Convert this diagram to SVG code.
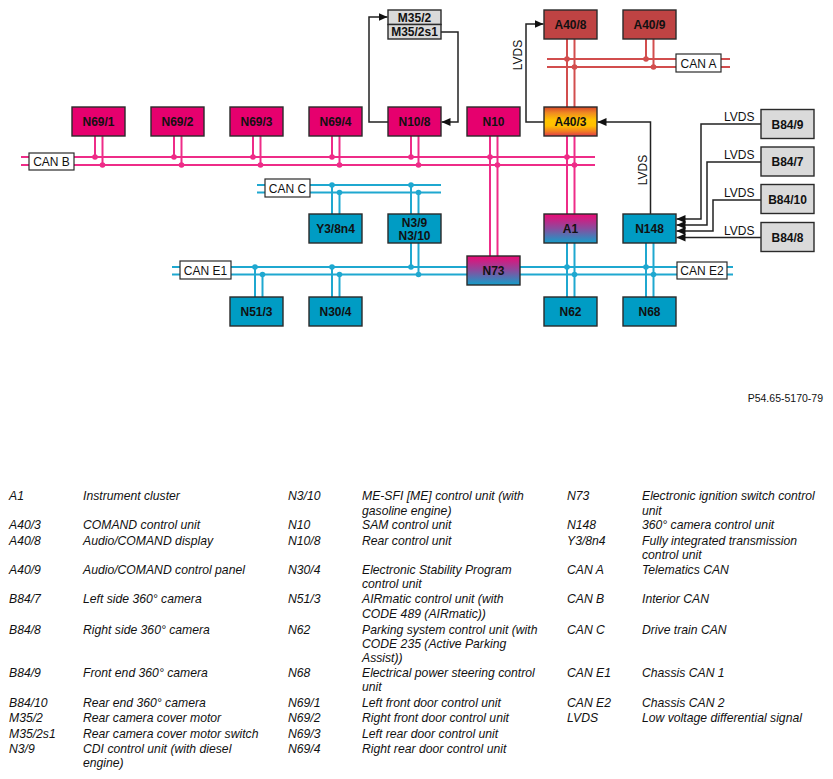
<svg xmlns="http://www.w3.org/2000/svg" width="833" height="779" viewBox="0 0 833 779">
<style>
.bg{fill:#ffffff}
.box{stroke:#2a2a2a;stroke-width:1.4}
.pink{fill:#E6006E}
.blue{fill:#009CC4}
.red{fill:#BF4343}
.gray{fill:#DADADA}
.nt{font-family:"Liberation Sans",Arial,sans-serif;font-weight:bold;font-size:12px;fill:#111;text-anchor:middle}
.bl{fill:#fff;stroke:#2a2a2a;stroke-width:1.2}
.btxt{font-family:"Liberation Sans",Arial,sans-serif;font-size:12px;fill:#111;text-anchor:middle}
.pb{stroke:#EE2C88;stroke-width:2;fill:none}
.cb{stroke:#1FA8D0;stroke-width:2;fill:none}
.rb{stroke:#D24E4E;stroke-width:2;fill:none}
.pd{fill:#EE2C88}
.cd{fill:#1FA8D0}
.rd{fill:#D24E4E}
.ar{stroke:#222;stroke-width:1.5;fill:none;marker-end:url(#ah)}
.lv{font-family:"Liberation Sans",Arial,sans-serif;font-size:12px;fill:#111}
.lg{font-family:"Liberation Sans",Arial,sans-serif;font-style:italic;font-size:12.2px;fill:#111}
.fn{font-family:"Liberation Sans",Arial,sans-serif;font-size:10.5px;fill:#111;text-anchor:end}
</style>
<defs>
<marker id="ah" markerUnits="userSpaceOnUse" markerWidth="10" markerHeight="8" refX="9" refY="4" orient="auto">
<path d="M0,0 L9,4 L0,8 z" fill="#111"/>
</marker>
<linearGradient id="gOrange" x1="0" y1="0" x2="0" y2="1">
<stop offset="0" stop-color="#D8452A"/>
<stop offset="0.2" stop-color="#F08A22"/>
<stop offset="0.45" stop-color="#FFC400"/>
<stop offset="0.65" stop-color="#FFC000"/>
<stop offset="0.85" stop-color="#F07A25"/>
<stop offset="1" stop-color="#E03A4A"/>
</linearGradient>
<linearGradient id="gPB" x1="0" y1="0" x2="0" y2="1">
<stop offset="0" stop-color="#EC0A76"/>
<stop offset="0.5" stop-color="#8A4C9E"/>
<stop offset="1" stop-color="#139FCA"/>
</linearGradient>
</defs>
<rect class="bg" x="0" y="0" width="833" height="779"/>

<g id="connectors">
<!-- CAN A -->
<line class="rb" x1="547" y1="59" x2="730" y2="59"/>
<line class="rb" x1="547" y1="67" x2="730" y2="67"/>
<line class="rb" x1="567" y1="39" x2="567" y2="107"/>
<line class="rb" x1="574.5" y1="39" x2="574.5" y2="107"/>
<line class="rb" x1="646" y1="39" x2="646" y2="59"/>
<line class="rb" x1="653.5" y1="39" x2="653.5" y2="67"/>
<circle class="rd" cx="567" cy="59" r="2.8"/>
<circle class="rd" cx="574.5" cy="67" r="2.8"/>
<circle class="rd" cx="646" cy="59" r="2.8"/>
<circle class="rd" cx="653.5" cy="67" r="2.8"/>
<!-- CAN B -->
<line class="pb" x1="21" y1="157" x2="595" y2="157"/>
<line class="pb" x1="21" y1="165" x2="595" y2="165"/>
<line class="pb" x1="95" y1="136" x2="95" y2="157"/>
<line class="pb" x1="102.5" y1="136" x2="102.5" y2="165"/>
<line class="pb" x1="174" y1="136" x2="174" y2="157"/>
<line class="pb" x1="181.5" y1="136" x2="181.5" y2="165"/>
<line class="pb" x1="253" y1="136" x2="253" y2="157"/>
<line class="pb" x1="260.5" y1="136" x2="260.5" y2="165"/>
<line class="pb" x1="332" y1="136" x2="332" y2="157"/>
<line class="pb" x1="339.5" y1="136" x2="339.5" y2="165"/>
<line class="pb" x1="411" y1="136" x2="411" y2="157"/>
<line class="pb" x1="418.5" y1="136" x2="418.5" y2="165"/>
<line class="pb" x1="490" y1="136" x2="490" y2="256"/>
<line class="pb" x1="497.5" y1="136" x2="497.5" y2="256"/>
<line class="pb" x1="567" y1="136" x2="567" y2="214"/>
<line class="pb" x1="574.5" y1="136" x2="574.5" y2="214"/>
<circle class="pd" cx="95" cy="157" r="2.8"/>
<circle class="pd" cx="102.5" cy="165" r="2.8"/>
<circle class="pd" cx="174" cy="157" r="2.8"/>
<circle class="pd" cx="181.5" cy="165" r="2.8"/>
<circle class="pd" cx="253" cy="157" r="2.8"/>
<circle class="pd" cx="260.5" cy="165" r="2.8"/>
<circle class="pd" cx="332" cy="157" r="2.8"/>
<circle class="pd" cx="339.5" cy="165" r="2.8"/>
<circle class="pd" cx="411" cy="157" r="2.8"/>
<circle class="pd" cx="418.5" cy="165" r="2.8"/>
<circle class="pd" cx="490" cy="157" r="2.8"/>
<circle class="pd" cx="497.5" cy="165" r="2.8"/>
<circle class="pd" cx="567" cy="157" r="2.8"/>
<circle class="pd" cx="574.5" cy="165" r="2.8"/>
<!-- CAN C -->
<line class="cb" x1="257" y1="185" x2="441" y2="185"/>
<line class="cb" x1="257" y1="192.5" x2="441" y2="192.5"/>
<line class="cb" x1="332" y1="185" x2="332" y2="214"/>
<line class="cb" x1="339.5" y1="192.5" x2="339.5" y2="214"/>
<line class="cb" x1="411" y1="185" x2="411" y2="214"/>
<line class="cb" x1="418.5" y1="192.5" x2="418.5" y2="214"/>
<circle class="cd" cx="332" cy="185" r="2.8"/>
<circle class="cd" cx="339.5" cy="192.5" r="2.8"/>
<circle class="cd" cx="411" cy="185" r="2.8"/>
<circle class="cd" cx="418.5" cy="192.5" r="2.8"/>
<!-- CAN E1 / E2 -->
<line class="cb" x1="172" y1="267" x2="733" y2="267"/>
<line class="cb" x1="172" y1="274.5" x2="733" y2="274.5"/>
<line class="cb" x1="411" y1="243" x2="411" y2="267"/>
<line class="cb" x1="418.5" y1="243" x2="418.5" y2="274.5"/>
<line class="cb" x1="255" y1="267" x2="255" y2="297"/>
<line class="cb" x1="262.5" y1="274.5" x2="262.5" y2="297"/>
<line class="cb" x1="332" y1="267" x2="332" y2="297"/>
<line class="cb" x1="339.5" y1="274.5" x2="339.5" y2="297"/>
<line class="cb" x1="567" y1="243" x2="567" y2="297"/>
<line class="cb" x1="574.5" y1="243" x2="574.5" y2="297"/>
<line class="cb" x1="646" y1="243" x2="646" y2="297"/>
<line class="cb" x1="653.5" y1="243" x2="653.5" y2="297"/>
<circle class="cd" cx="411" cy="267" r="2.8"/>
<circle class="cd" cx="418.5" cy="274.5" r="2.8"/>
<circle class="cd" cx="255" cy="267" r="2.8"/>
<circle class="cd" cx="262.5" cy="274.5" r="2.8"/>
<circle class="cd" cx="332" cy="267" r="2.8"/>
<circle class="cd" cx="339.5" cy="274.5" r="2.8"/>
<circle class="cd" cx="567" cy="267" r="2.8"/>
<circle class="cd" cx="574.5" cy="274.5" r="2.8"/>
<circle class="cd" cx="646" cy="267" r="2.8"/>
<circle class="cd" cx="653.5" cy="274.5" r="2.8"/>
<!-- bus labels -->
<rect class="bl" x="29" y="153" width="45" height="17"/>
<text class="btxt" x="51.5" y="166">CAN B</text>
<rect class="bl" x="265" y="179" width="45" height="18"/>
<text class="btxt" x="287.5" y="192.5">CAN C</text>
<rect class="bl" x="180" y="261" width="51" height="18"/>
<text class="btxt" x="205.5" y="274.5">CAN E1</text>
<rect class="bl" x="677" y="262" width="50" height="17"/>
<text class="btxt" x="702" y="275">CAN E2</text>
<rect class="bl" x="676" y="54" width="45" height="18"/>
<text class="btxt" x="698.5" y="67.5">CAN A</text>
<!-- LVDS / signal arrows -->
<polyline class="ar" points="388,122 369,122 369,17 387.5,17"/>
<polyline class="ar" points="441,32 458,32 458,122 441.5,122"/>
<polyline class="ar" points="544,122 526,122 526,24 543.5,24"/>
<text class="lv" transform="translate(522,55) rotate(-90)" text-anchor="middle">LVDS</text>
<polyline class="ar" points="650.5,214 650.5,122 597.5,122"/>
<text class="lv" transform="translate(647,170) rotate(-90)" text-anchor="middle">LVDS</text>
<polyline class="ar" points="761,124 701,124 701,219 676.5,219"/>
<polyline class="ar" points="761,162 707,162 707,225 676.5,225"/>
<polyline class="ar" points="761,200 713,200 713,231 676.5,231"/>
<polyline class="ar" points="761,237.5 676.5,237.5"/>
<text class="lv" x="724" y="121">LVDS</text>
<text class="lv" x="724" y="159">LVDS</text>
<text class="lv" x="724" y="197">LVDS</text>
<text class="lv" x="724" y="234.5">LVDS</text>
</g>

<g id="M35-2"><rect class="box gray" x="388" y="10" width="53" height="14.5"/><text class="nt" x="414.5" y="21.5">M35/2</text></g>
<g id="M35-2s1"><rect class="box gray" x="388" y="24.5" width="53" height="14.5"/><text class="nt" x="414.5" y="36">M35/2s1</text></g>
<g id="A40-8"><rect class="box red" x="544" y="10" width="53" height="29"/><text class="nt" x="570.5" y="29">A40/8</text></g>
<g id="A40-9"><rect class="box red" x="623" y="10" width="53" height="29"/><text class="nt" x="649.5" y="29">A40/9</text></g>

<g id="N69-1"><rect class="box pink" x="72" y="107" width="53" height="29"/><text class="nt" x="98.5" y="126">N69/1</text></g>
<g id="N69-2"><rect class="box pink" x="151" y="107" width="53" height="29"/><text class="nt" x="177.5" y="126">N69/2</text></g>
<g id="N69-3"><rect class="box pink" x="230" y="107" width="53" height="29"/><text class="nt" x="256.5" y="126">N69/3</text></g>
<g id="N69-4"><rect class="box pink" x="309" y="107" width="53" height="29"/><text class="nt" x="335.5" y="126">N69/4</text></g>
<g id="N10-8"><rect class="box pink" x="388" y="107" width="53" height="29"/><text class="nt" x="414.5" y="126">N10/8</text></g>
<g id="N10"><rect class="box pink" x="467" y="107" width="53" height="29"/><text class="nt" x="493.5" y="126">N10</text></g>
<g id="A40-3"><rect class="box" fill="url(#gOrange)" x="544" y="107" width="53" height="29"/><text class="nt" x="570.5" y="126">A40/3</text></g>

<g id="B84-9"><rect class="box gray" x="761" y="109.5" width="53" height="29"/><text class="nt" x="787.5" y="128.5">B84/9</text></g>
<g id="B84-7"><rect class="box gray" x="761" y="147" width="53" height="29"/><text class="nt" x="787.5" y="166">B84/7</text></g>
<g id="B84-10"><rect class="box gray" x="761" y="184.5" width="53" height="29"/><text class="nt" x="787.5" y="203.5">B84/10</text></g>
<g id="B84-8"><rect class="box gray" x="761" y="222.5" width="53" height="29"/><text class="nt" x="787.5" y="241.5">B84/8</text></g>

<g id="Y3-8n4"><rect class="box blue" x="309" y="214" width="53" height="29"/><text class="nt" x="335.5" y="233">Y3/8n4</text></g>
<g id="N3-9"><rect class="box blue" x="388" y="214" width="53" height="29"/><text class="nt" x="414.5" y="227">N3/9</text><text class="nt" x="414.5" y="239.5">N3/10</text></g>
<g id="A1"><rect class="box" fill="url(#gPB)" x="544" y="214" width="53" height="29"/><text class="nt" x="570.5" y="233">A1</text></g>
<g id="N148"><rect class="box blue" x="623" y="214" width="53" height="29"/><text class="nt" x="649.5" y="233">N148</text></g>
<g id="N73"><rect class="box" fill="url(#gPB)" x="467" y="256" width="53" height="29"/><text class="nt" x="493.5" y="275">N73</text></g>
<g id="N51-3"><rect class="box blue" x="230" y="297" width="53" height="29"/><text class="nt" x="256.5" y="316">N51/3</text></g>
<g id="N30-4"><rect class="box blue" x="309" y="297" width="53" height="29"/><text class="nt" x="335.5" y="316">N30/4</text></g>
<g id="N62"><rect class="box blue" x="544" y="297" width="53" height="29"/><text class="nt" x="570.5" y="316">N62</text></g>
<g id="N68"><rect class="box blue" x="623" y="297" width="53" height="29"/><text class="nt" x="649.5" y="316">N68</text></g>

<text class="fn" x="823" y="402">P54.65-5170-79</text>

<g id="legend">
<text class="lg" x="9" y="500">A1</text><text class="lg" x="83" y="500">Instrument cluster</text>
<text class="lg" x="9" y="529">A40/3</text><text class="lg" x="83" y="529">COMAND control unit</text>
<text class="lg" x="9" y="545">A40/8</text><text class="lg" x="83" y="545">Audio/COMAND display</text>
<text class="lg" x="9" y="574">A40/9</text><text class="lg" x="83" y="574">Audio/COMAND control panel</text>
<text class="lg" x="9" y="603">B84/7</text><text class="lg" x="83" y="603">Left side 360° camera</text>
<text class="lg" x="9" y="634">B84/8</text><text class="lg" x="83" y="634">Right side 360° camera</text>
<text class="lg" x="9" y="677">B84/9</text><text class="lg" x="83" y="677">Front end 360° camera</text>
<text class="lg" x="9" y="707">B84/10</text><text class="lg" x="83" y="707">Rear end 360° camera</text>
<text class="lg" x="9" y="722">M35/2</text><text class="lg" x="83" y="722">Rear camera cover motor</text>
<text class="lg" x="9" y="738">M35/2s1</text><text class="lg" x="83" y="738">Rear camera cover motor switch</text>
<text class="lg" x="9" y="753">N3/9</text><text class="lg" x="83" y="753">CDI control unit (with diesel</text><text class="lg" x="83" y="767">engine)</text>

<text class="lg" x="288" y="500">N3/10</text><text class="lg" x="362" y="500">ME-SFI [ME] control unit (with</text><text class="lg" x="362" y="514.5">gasoline engine)</text>
<text class="lg" x="288" y="529">N10</text><text class="lg" x="362" y="529">SAM control unit</text>
<text class="lg" x="288" y="545">N10/8</text><text class="lg" x="362" y="545">Rear control unit</text>
<text class="lg" x="288" y="574">N30/4</text><text class="lg" x="362" y="574">Electronic Stability Program</text><text class="lg" x="362" y="588">control unit</text>
<text class="lg" x="288" y="603">N51/3</text><text class="lg" x="362" y="603">AIRmatic control unit (with</text><text class="lg" x="362" y="617.5">CODE 489 (AIRmatic))</text>
<text class="lg" x="288" y="634">N62</text><text class="lg" x="362" y="634">Parking system control unit (with</text><text class="lg" x="362" y="648">CODE 235 (Active Parking</text><text class="lg" x="362" y="661.5">Assist))</text>
<text class="lg" x="288" y="677">N68</text><text class="lg" x="362" y="677">Electrical power steering control</text><text class="lg" x="362" y="691">unit</text>
<text class="lg" x="288" y="707">N69/1</text><text class="lg" x="362" y="707">Left front door control unit</text>
<text class="lg" x="288" y="722">N69/2</text><text class="lg" x="362" y="722">Right front door control unit</text>
<text class="lg" x="288" y="738">N69/3</text><text class="lg" x="362" y="738">Left rear door control unit</text>
<text class="lg" x="288" y="753">N69/4</text><text class="lg" x="362" y="753">Right rear door control unit</text>

<text class="lg" x="567" y="500">N73</text><text class="lg" x="642" y="500">Electronic ignition switch control</text><text class="lg" x="642" y="514.5">unit</text>
<text class="lg" x="567" y="529">N148</text><text class="lg" x="642" y="529">360° camera control unit</text>
<text class="lg" x="567" y="545">Y3/8n4</text><text class="lg" x="642" y="545">Fully integrated transmission</text><text class="lg" x="642" y="559">control unit</text>
<text class="lg" x="567" y="574">CAN A</text><text class="lg" x="642" y="574">Telematics CAN</text>
<text class="lg" x="567" y="603">CAN B</text><text class="lg" x="642" y="603">Interior CAN</text>
<text class="lg" x="567" y="634">CAN C</text><text class="lg" x="642" y="634">Drive train CAN</text>
<text class="lg" x="567" y="677">CAN E1</text><text class="lg" x="642" y="677">Chassis CAN 1</text>
<text class="lg" x="567" y="707">CAN E2</text><text class="lg" x="642" y="707">Chassis CAN 2</text>
<text class="lg" x="567" y="722">LVDS</text><text class="lg" x="642" y="722">Low voltage differential signal</text>
</g>
</svg>
